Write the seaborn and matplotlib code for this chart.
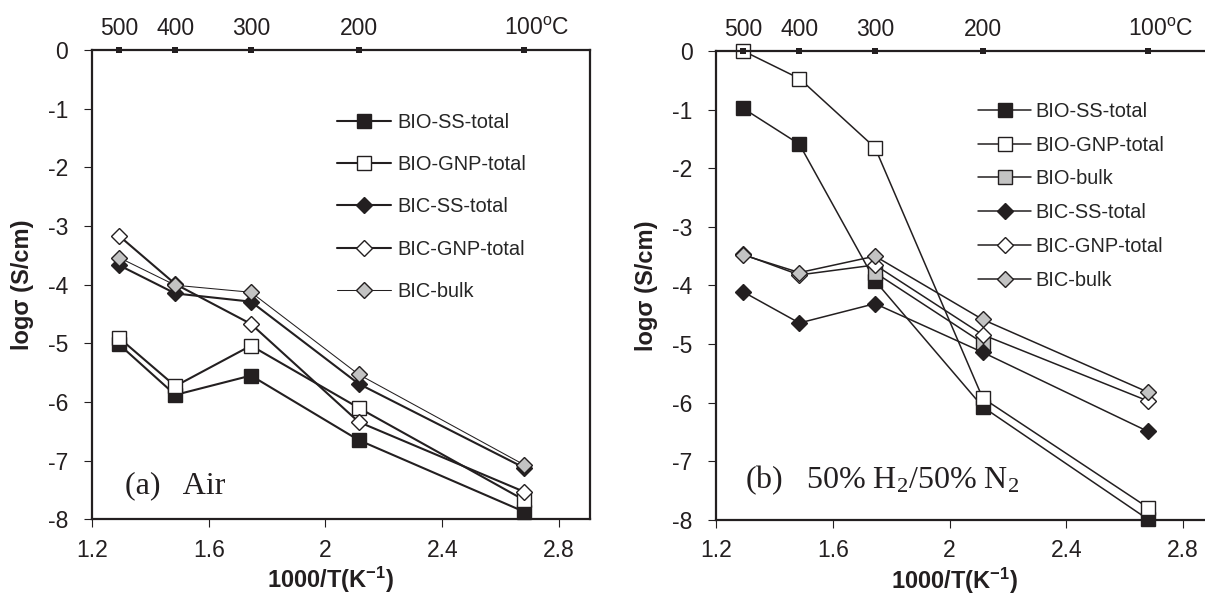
import matplotlib
matplotlib.use("Agg")
import matplotlib.pyplot as plt
import numpy as np
import seaborn as sns
from matplotlib.ticker import FormatStrFormatter

# Measurement temperatures (deg C) and their reciprocal-temperature positions
temps_c = [500, 400, 300, 200, 100]
temp_labels = ["500", "400", "300", "200", "100"]
inv_t = [1000.0 / (t + 273.15) for t in temps_c]
top_line = [0, 0, 0, 0, 0]

# (a) conductivity in air, log(S/cm)
air_bio_ss = [-5.02, -5.88, -5.55, -6.65, -7.87]
air_bio_gnp = [-4.91, -5.73, -5.04, -6.10, -7.67]
air_bic_ss = [-3.67, -4.15, -4.29, -5.69, -7.12]
air_bic_gnp = [-3.17, -3.99, -4.67, -6.34, -7.53]
air_bic_bulk = [-3.54, -4.01, -4.13, -5.53, -7.07]

# (b) conductivity in 50% H2 / 50% N2, log(S/cm)
h2_bio_ss = [-0.98, -1.59, -3.92, -6.07, -7.99]
h2_bio_gnp = [0.0, -0.47, -1.65, -5.92, -7.79]
h2_bio_bulk = [np.nan, np.nan, -3.78, -4.98, np.nan]
h2_bic_ss = [-4.11, -4.64, -4.31, -5.14, -6.49]
h2_bic_gnp = [-3.47, -3.82, -3.65, -4.84, -5.97]
h2_bic_bulk = [-3.48, -3.78, -3.50, -4.58, -5.82]

INK = "#231f20"
GREY = "#c3c3c3"

sns.set_style("ticks")
plt.rcParams["font.family"] = ["Liberation Sans", "DejaVu Sans"]
plt.rcParams["axes.unicode_minus"] = False
plt.rcParams["mathtext.fontset"] = "stix"
plt.rcParams["mathtext.default"] = "regular"

fig = plt.figure(figsize=(12.05, 5.94), dpi=100)
ax_air = fig.add_axes([0.0763, 0.1258, 0.4133, 0.7900])
ax_h2 = fig.add_axes([0.5942, 0.1246, 0.4133, 0.7896])


def draw_series(ax, y, label, marker, face, ms, lw):
    sns.lineplot(x=inv_t, y=y, ax=ax, label=label, color=INK, linewidth=lw,
                 marker=marker, markersize=ms, markerfacecolor=face,
                 markeredgecolor=INK, markeredgewidth=1.0, sort=False,
                 errorbar=None, clip_on=False)


# Panel (a)
draw_series(ax_air, air_bio_ss, "BIO-SS-total", "s", INK, 10, 1.5)
draw_series(ax_air, air_bio_gnp, "BIO-GNP-total", "s", "white", 10, 1.5)
draw_series(ax_air, air_bic_ss, "BIC-SS-total", "D", INK, 8.2, 1.5)
draw_series(ax_air, air_bic_gnp, "BIC-GNP-total", "D", "white", 8.2, 1.5)
draw_series(ax_air, air_bic_bulk, "BIC-bulk", "D", GREY, 8.2, 0.75)

# Panel (b)
draw_series(ax_h2, h2_bio_ss, "BIO-SS-total", "s", INK, 9.5, 1.1)
draw_series(ax_h2, h2_bio_gnp, "BIO-GNP-total", "s", "white", 9.5, 1.1)
draw_series(ax_h2, h2_bio_bulk, "BIO-bulk", "s", GREY, 9.5, 1.1)
draw_series(ax_h2, h2_bic_ss, "BIC-SS-total", "D", INK, 7.8, 1.1)
draw_series(ax_h2, h2_bic_gnp, "BIC-GNP-total", "D", "white", 7.8, 1.1)
draw_series(ax_h2, h2_bic_bulk, "BIC-bulk", "D", GREY, 7.8, 1.1)

for ax in (ax_air, ax_h2):
    # temperature scale along the top edge
    sns.scatterplot(x=inv_t, y=top_line, ax=ax, marker="s", s=22, color=INK,
                    edgecolor=INK, linewidth=0, clip_on=False, zorder=6,
                    legend=False)
    for xv, lab in zip(inv_t, temp_labels):
        if lab == "100":
            ax.annotate("100$^\\mathregular{o}$C", xy=(xv, 0), xytext=(-14.5, 11),
                        textcoords="offset points", ha="left", va="baseline",
                        fontsize=16.5, color=INK, annotation_clip=False)
        else:
            ax.annotate(lab, xy=(xv, 0), xytext=(0, 11),
                        textcoords="offset points", ha="center", va="baseline",
                        fontsize=16.5, color=INK, annotation_clip=False)

    ax.set_xlim(1.2, 2.906)
    ax.set_ylim(-8, 0)
    ax.set_xticks([1.2, 1.6, 2.0, 2.4, 2.8])
    ax.set_yticks(range(-8, 1))
    ax.xaxis.set_major_formatter(FormatStrFormatter("%g"))
    ax.yaxis.set_major_formatter(FormatStrFormatter("%g"))
    ax.tick_params(direction="out", length=6, width=0.8, labelsize=16.5,
                   colors=INK)
    ax.tick_params(axis="x", pad=8)
    ax.tick_params(axis="y", pad=11)
    for side in ("left", "bottom", "right", "top"):
        ax.spines[side].set_visible(True)
        ax.spines[side].set_linewidth(1.6)
        ax.spines[side].set_color(INK)
    ax.set_xlabel("1000/T(K$^\\mathregular{-1}$)", fontsize=17, fontweight="bold",
                  color=INK)
    ax.set_ylabel("log\u03c3 (S/cm)", fontsize=17, fontweight="bold", color=INK)
    ax.xaxis.set_label_coords(0.478, -0.098)
    ax.yaxis.set_label_coords(-0.1165, 0.5)
    ax.grid(False)

ax_air.legend(loc="upper left", bbox_to_anchor=(0.456, 0.905), frameon=False,
              fontsize=14.4, handlelength=2.7, handletextpad=0.3,
              labelspacing=1.17, borderpad=0.4)
ax_h2.legend(loc="upper left", bbox_to_anchor=(0.49, 0.93), frameon=False,
             fontsize=14.4, handlelength=2.65, handletextpad=0.2,
             labelspacing=0.74, borderpad=0.4)

ax_air.text(0.066, 0.056, "(a)   Air", transform=ax_air.transAxes,
            family="Liberation Serif", fontsize=23, va="baseline", color=INK)
ax_h2.text(0.058, 0.068, "(b)   50% H$_2$/50% N$_2$", transform=ax_h2.transAxes,
           family="Liberation Serif", fontsize=23, va="baseline", color=INK)

fig.savefig("out.png", dpi=100)
